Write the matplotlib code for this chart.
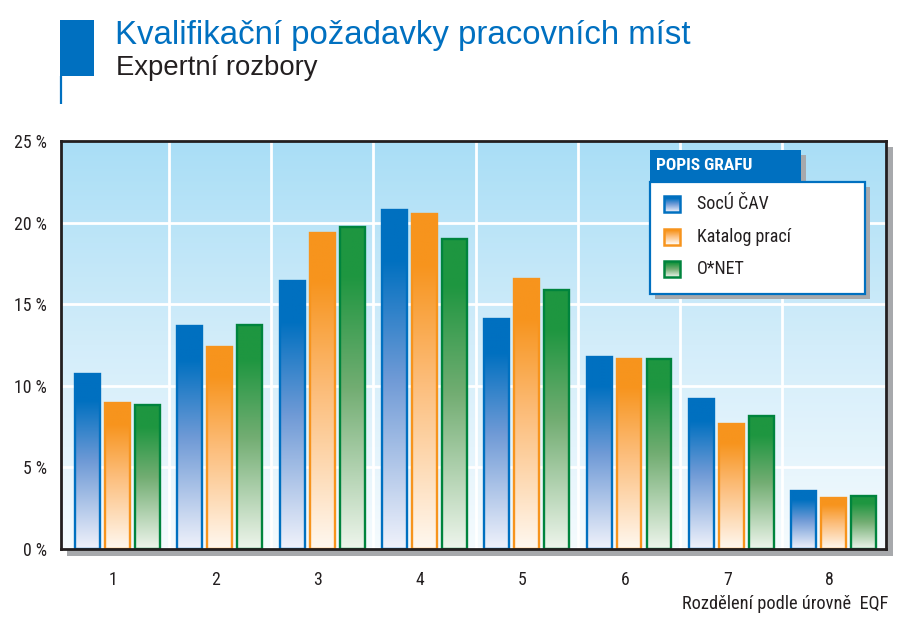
import numpy as np
import matplotlib
matplotlib.use("Agg")
import matplotlib.pyplot as plt
from matplotlib.patches import Rectangle
from matplotlib.colors import LinearSegmentedColormap

COND = ['Roboto Condensed', 'Archivo Narrow', 'DejaVu Sans']
REG = ['Liberation Sans', 'DejaVu Sans']
plt.rcParams['font.family'] = COND

levels = ["1", "2", "3", "4", "5", "6", "7", "8"]
socu_cav = [10.7, 13.65, 16.4, 20.8, 14.1, 11.75, 9.2, 3.55]
katalog_praci = [8.95, 12.4, 19.35, 20.5, 16.55, 11.65, 7.65, 3.15]
onet = [8.8, 13.7, 19.7, 19.0, 15.85, 11.65, 8.15, 3.25]
series = [socu_cav, katalog_praci, onet]
series_names = ["SocÚ ČAV", "Katalog prací", "O*NET"]
yticks = [0, 5, 10, 15, 20, 25]

# bottom, middle, top colour, edge
palette = [
    ("#f0f2fb", "#6f9ad6", "#0070c0", "#0070c0"),
    ("#fff8f0", "#fcbd7a", "#f7941d", "#f7941d"),
    ("#eef5ec", "#72ad72", "#1e9640", "#00843d"),
]

W, H = 911, 621
fig = plt.figure(figsize=(W / 100, H / 100), dpi=100)
fig.patch.set_facecolor("white")


def fx(px):
    return px / W


def fy(py):
    return 1 - py / H


def grad_cmap(name, bot, mid, top):
    return LinearSegmentedColormap.from_list(
        name, [(0, bot), (0.5, mid), (0.85, top), (1, top)])


# underlay for shadows, overlay for legend and title (pixel coords)
under = fig.add_axes([0, 0, 1, 1], zorder=-1)
under.set_xlim(0, W)
under.set_ylim(H, 0)
under.axis("off")

over = fig.add_axes([0, 0, 1, 1], zorder=5)
over.set_xlim(0, W)
over.set_ylim(H, 0)
over.axis("off")

ax = fig.add_axes([fx(61), fy(549), fx(886) - fx(61), fy(141) - fy(549)], zorder=1)

shadow = "#a7a9ac"
under.add_patch(Rectangle((67, 147), 826, 409, color=shadow, lw=0))

x0_lim, x1_lim = 0.448, 8.512

# background gradient
bg = LinearSegmentedColormap.from_list("bg", ["#f5fbfe", "#d3edfa", "#a9def6"])
grad = np.linspace(0, 1, 256).reshape(-1, 1)
ax.imshow(grad, cmap=bg, origin="lower", extent=[x0_lim, x1_lim, 0, 25],
          aspect="auto", zorder=0)

for v in [5, 10, 15, 20]:
    ax.axhline(v, color="white", lw=2, zorder=1)
for g in range(1, 8):
    ax.axvline(g + 0.5, color="white", lw=2, zorder=1)

x = np.arange(1, len(levels) + 1)
bw = 0.244
step = 0.293
for i, (vals, (bot, mid, top, edge)) in enumerate(zip(series, palette)):
    cmap = grad_cmap(f"c{i}", bot, mid, top)
    for xi, v in zip(x, vals):
        x0 = xi + (i - 1) * step - bw / 2
        r = Rectangle((x0, 0), bw, v, facecolor="none", edgecolor=edge,
                      lw=1.7, zorder=3)
        ax.add_patch(r)
        im = ax.imshow(grad, cmap=cmap, origin="lower",
                       extent=[x0, x0 + bw, 0, v], aspect="auto", zorder=2)
        im.set_clip_path(r)

ax.set_xlim(x0_lim, x1_lim)
ax.set_ylim(0, 25)
ax.set_xticks(x - 0.04)
ax.set_xticklabels(levels)
ax.set_yticks(yticks)
ax.set_yticklabels([f"{t} %" for t in yticks])
ax.tick_params(length=0, labelsize=12.8, colors="#231f20")
ax.tick_params(axis="y", pad=10)
ax.tick_params(axis="x", pad=16)
for s in ax.spines.values():
    s.set_color("#231f20")
    s.set_linewidth(2)
    s.set_zorder(4)

over.text(888, 604, "Rozdělení podle úrovně  EQF", ha="right", va="center",
          fontsize=13.2, color="#231f20")

# title block
blue = "#0070c0"
over.add_patch(Rectangle((60, 20), 34, 56, color=blue, lw=0))
over.plot([61, 61], [76, 104], color=blue, lw=1.6, solid_capstyle="butt")
over.text(115, 44, "Kvalifikační požadavky pracovních míst", fontsize=23.8,
          color=blue, family=REG, va="baseline")
over.text(116, 75, "Expertní rozbory", fontsize=19.8, color="#231f20",
          family=REG, va="baseline")

# legend
over.add_patch(Rectangle((655, 155), 151, 32, color=shadow, lw=0, zorder=1))
over.add_patch(Rectangle((655, 187), 215, 112, color=shadow, lw=0, zorder=1))
over.add_patch(Rectangle((650, 150), 151, 32, color=blue, lw=0, zorder=2))
over.add_patch(Rectangle((650, 182), 215, 112, facecolor="white",
                         edgecolor=blue, lw=1.6, zorder=2))
over.text(656, 166, "POPIS GRAFU", color="white", fontsize=12.5,
          fontweight="bold", va="center", zorder=3)
for i, (name, (bot, mid, top, edge)) in enumerate(zip(series_names, palette)):
    yc = 204 + i * 32.5
    cmap = grad_cmap(f"l{i}", bot, mid, top)
    r = Rectangle((664, yc - 8), 16, 16, facecolor="none", edgecolor=edge,
                  lw=1.8, zorder=4)
    over.add_patch(r)
    im = over.imshow(grad, cmap=cmap, origin="lower",
                     extent=[664, 680, yc + 8, yc - 8], aspect="auto", zorder=3)
    im.set_clip_path(r)
    over.text(697, yc, name, fontsize=13, color="#231f20", va="center", zorder=4)

over.set_xlim(0, W)
over.set_ylim(H, 0)

plt.savefig("out.png", dpi=100)
